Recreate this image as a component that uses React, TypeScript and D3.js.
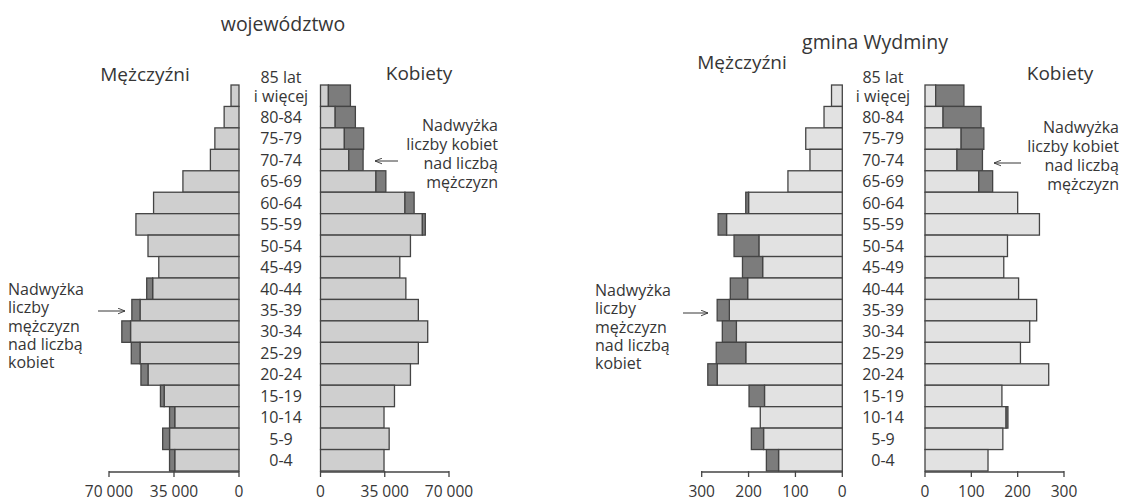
import React from "react";
import * as d3 from "d3";

// Age groups, top to bottom
const ageGroups = ["85+", "80-84", "75-79", "70-74", "65-69", "60-64", "55-59", "50-54", "45-49", "40-44", "35-39", "30-34", "25-29", "20-24", "15-19", "10-14", "5-9", "0-4"];
const ageLabels = ["i więcej", "80-84", "75-79", "70-74", "65-69", "60-64", "55-59", "50-54", "45-49", "40-44", "35-39", "30-34", "25-29", "20-24", "15-19", "10-14", "5-9", "0-4"];
const topLabelExtra = "85 lat";

// województwo
const voivMale = [4300, 8000, 13000, 15400, 30200, 46000, 55500, 49000, 43200, 49700, 57700, 63100, 58000, 52800, 42300, 37400, 41100, 37400];
const voivFemale = [16300, 19000, 23500, 23200, 35600, 51000, 57100, 49000, 43200, 46500, 53300, 58400, 53300, 49000, 40300, 34600, 37400, 34600];
const voivTicks = [0, 35000, 70000];

// gmina Wydminy
const gminaMale = [23, 39, 78, 69, 116, 206, 265, 231, 213, 239, 267, 256, 269, 287, 199, 175, 194, 162];
const gminaFemale = [84, 121, 127, 124, 146, 200, 247, 178, 170, 202, 241, 226, 206, 267, 166, 179, 168, 136];
const gminaTicks = [0, 100, 200, 300];

const titles = ["województwo", "gmina Wydminy"];
const maleLabel = "Mężczyźni";
const femaleLabel = "Kobiety";
const maleNote = ["Nadwyżka", "liczby", "mężczyzn", "nad liczbą", "kobiet"];
const femaleNote = ["Nadwyżka", "liczby kobiet", "nad liczbą", "mężczyzn"];

const FONT = "'Open Sans', sans-serif";
const TXT = "#363636";
const STROKE = "#444";
const DARK = "#7c7c7c";

const fmt = (v: number) => d3.format(",")(v).replace(/,/g, " ");

type PyrProps = {
  male: number[];
  female: number[];
  ticks: number[];
  maleRange: [number, number];
  femaleRange: [number, number];
  light: string;
  title: string;
  titleXY: [number, number];
  maleXY: [number, number];
  femaleXY: [number, number];
  ageX: number;
  mNoteX: number;
  mNoteY: number;
  mArrow: [number, number, number];
  fNoteX: number;
  fNoteY: number;
  fArrow: [number, number, number];
};

function Pyramid(p: PyrProps) {
  const maxT = p.ticks[p.ticks.length - 1];
  const xm = d3.scaleLinear().domain([0, maxT]).range(p.maleRange);
  const xf = d3.scaleLinear().domain([0, maxT]).range(p.femaleRange);
  const y = d3.scaleBand<string>().domain(ageGroups).range([85, 471]).padding(0);
  const bw = y.bandwidth();
  const axisY = 472;
  return (
    <g fontFamily={FONT} fill={TXT}>
      <text x={p.titleXY[0]} y={p.titleXY[1]} textAnchor="middle" fontSize={19.5} fill={TXT}>{p.title}</text>
      <text x={p.maleXY[0]} y={p.maleXY[1]} textAnchor="middle" fontSize={19} fill={TXT}>{maleLabel}</text>
      <text x={p.femaleXY[0]} y={p.femaleXY[1]} textAnchor="middle" fontSize={19} fill={TXT}>{femaleLabel}</text>
      {ageGroups.map((a, i) => {
        const m = p.male[i];
        const f = p.female[i];
        const common = Math.min(m, f);
        const yy = y(a)!;
        const x0m = xm(0);
        const x0f = xf(0);
        return (
          <g key={a}>
            {/* male side */}
            <rect x={xm(common)} y={yy} width={x0m - xm(common)} height={bw} fill={p.light} stroke={STROKE} strokeWidth={1.3} />
            {m > f && (
              <rect x={xm(m)} y={yy} width={xm(common) - xm(m)} height={bw} fill={DARK} stroke={STROKE} strokeWidth={1.3} />
            )}
            {/* female side */}
            <rect x={x0f} y={yy} width={xf(common) - x0f} height={bw} fill={p.light} stroke={STROKE} strokeWidth={1.3} />
            {f > m && (
              <rect x={xf(common)} y={yy} width={xf(f) - xf(common)} height={bw} fill={DARK} stroke={STROKE} strokeWidth={1.3} />
            )}
            {i === 0 ? (
              <text x={p.ageX} y={yy + bw / 2 + 5.8 - 18.5} textAnchor="middle" fontSize={16} fill={TXT}>
                <tspan x={p.ageX}>{topLabelExtra}</tspan>
                <tspan x={p.ageX} dy={18.5}>{ageLabels[i]}</tspan>
              </text>
            ) : (
              <text x={p.ageX} y={yy + bw / 2 + 5.8} textAnchor="middle" fontSize={16} fill={TXT}>{ageLabels[i]}</text>
            )}
          </g>
        );
      })}
      {/* axes */}
      {[xm, xf].map((sc, k) => (
        <g key={k}>
          <line x1={sc(0)} x2={sc(maxT)} y1={axisY} y2={axisY} stroke={STROKE} strokeWidth={1.3} />
          {p.ticks.map((t) => (
            <g key={t}>
              <line x1={sc(t)} x2={sc(t)} y1={axisY - 1} y2={axisY + 5} stroke={STROKE} strokeWidth={1.3} />
              <text x={sc(t)} y={axisY + 24.5} textAnchor="middle" fontSize={15.5} fill={TXT}>{fmt(t)}</text>
            </g>
          ))}
        </g>
      ))}
      {/* annotations */}
      <text x={p.mNoteX} y={p.mNoteY} fontSize={16} fill={TXT}>
        {maleNote.map((s, i) => (
          <tspan key={s} x={p.mNoteX} dy={i === 0 ? 0 : 18.3}>{s}</tspan>
        ))}
      </text>
      <text x={p.fNoteX} y={p.fNoteY} fontSize={16} textAnchor="end" fill={TXT}>
        {femaleNote.map((s, i) => (
          <tspan key={s} x={p.fNoteX} dy={i === 0 ? 0 : 19}>{s}</tspan>
        ))}
      </text>
      <line x1={p.mArrow[0]} x2={p.mArrow[1]} y1={p.mArrow[2]} y2={p.mArrow[2]} stroke={TXT} strokeWidth={1} markerEnd="url(#arr)" />
      <line x1={p.fArrow[0]} x2={p.fArrow[1]} y1={p.fArrow[2]} y2={p.fArrow[2]} stroke={TXT} strokeWidth={1} markerEnd="url(#arr)" />
    </g>
  );
}

export default function App() {
  return (
    <svg width={1125} height={501} style={{ position: "absolute", left: 0, top: 0, background: "#fff" }}>
      <defs>
        <marker id="arr" viewBox="0 0 10 10" refX={10} refY={5} markerWidth={7} markerHeight={7} orient="auto" markerUnits="userSpaceOnUse">
          <path d="M0,1 L10,5 L0,9" fill="none" stroke={TXT} strokeWidth={1.3} />
        </marker>
      </defs>
      <rect x={0} y={0} width={1125} height={501} fill="#fff" />
      <Pyramid
        male={voivMale}
        female={voivFemale}
        ticks={voivTicks}
        maleRange={[239, 109]}
        femaleRange={[320.5, 449]}
        light="#cfcfcf"
        title={titles[0]}
        titleXY={[283, 31]}
        maleXY={[145, 81]}
        femaleXY={[419, 80]}
        ageX={281}
        mNoteX={8}
        mNoteY={295}
        mArrow={[98, 125, 311]}
        fNoteX={498}
        fNoteY={131}
        fArrow={[398, 375, 161]}
      />
      <Pyramid
        male={gminaMale}
        female={gminaFemale}
        ticks={gminaTicks}
        maleRange={[842.3, 701.7]}
        femaleRange={[925, 1064]}
        light="#e2e2e2"
        title={titles[1]}
        titleXY={[875, 49]}
        maleXY={[742, 69]}
        femaleXY={[1060, 80]}
        ageX={883}
        mNoteX={595}
        mNoteY={296}
        mArrow={[683, 708, 313]}
        fNoteX={1119}
        fNoteY={133}
        fArrow={[1021, 994, 163]}
      />
    </svg>
  );
}
